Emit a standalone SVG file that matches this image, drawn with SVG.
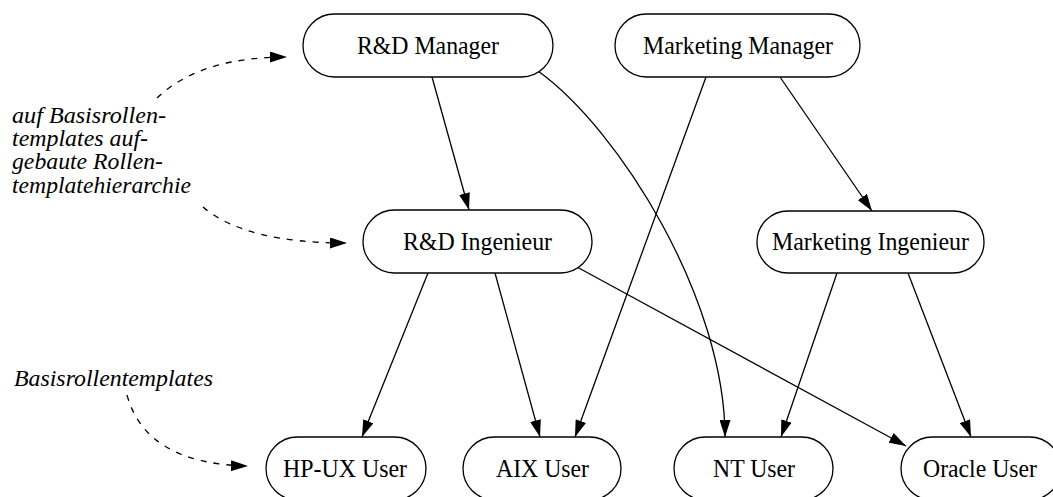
<svg xmlns="http://www.w3.org/2000/svg" width="1053" height="497" viewBox="0 0 1053 497">
<defs>
<style>
.node rect{fill:#fff;stroke:#000;stroke-width:1.3}
.node text{font-family:"Liberation Serif","Times New Roman",serif;font-size:26px;fill:#000;text-anchor:middle}
.lbl{font-family:"Liberation Serif","Times New Roman",serif;font-size:23px;font-style:italic;fill:#000}
.edge{fill:none;stroke:#000;stroke-width:1.3;marker-end:url(#ah)}
.dash{fill:none;stroke:#000;stroke-width:1.3;stroke-dasharray:6 7;marker-end:url(#ah)}
</style>
<marker id="ah" viewBox="0 0 17 11" refX="17" refY="5.5" markerWidth="17" markerHeight="11" markerUnits="userSpaceOnUse" orient="auto">
<path d="M0,0 L17,5.5 L0,11 Z" fill="#000"/>
</marker>
</defs>
<rect width="1053" height="497" fill="#fff"/>
<g id="connectors">
<path class="edge" d="M432,77 L469,210"/>
<path class="edge" d="M538,71 C620,130 725,300 725,437"/>
<path class="edge" d="M706,77 L575,437"/>
<path class="edge" d="M780,77 L872,211"/>
<path class="edge" d="M428,273 L362,437"/>
<path class="edge" d="M495,273 L540,437"/>
<path class="edge" d="M577,267 L906,446"/>
<path class="edge" d="M837,273 L781,437"/>
<path class="edge" d="M908,273 L971,437"/>
<path class="dash" d="M157,98 Q200,57 287,57"/>
<path class="dash" d="M203,207 Q245,243 347,243"/>
<path class="dash" d="M127,395 Q146,464 248,466"/>
</g>
<g id="labels">
<text class="lbl" x="12" y="123" textLength="154" lengthAdjust="spacingAndGlyphs">auf Basisrollen-</text>
<text class="lbl" x="12" y="146" textLength="136" lengthAdjust="spacingAndGlyphs">templates auf-</text>
<text class="lbl" x="12" y="169" textLength="151" lengthAdjust="spacingAndGlyphs">gebaute Rollen-</text>
<text class="lbl" x="12" y="193" textLength="179" lengthAdjust="spacingAndGlyphs">templatehierarchie</text>
<text class="lbl" x="14" y="386" textLength="199" lengthAdjust="spacingAndGlyphs">Basisrollentemplates</text>
</g>
<g id="rd-manager" class="node"><rect x="303" y="14" width="250" height="63" rx="31.5"/><text x="428" y="54" textLength="142" lengthAdjust="spacingAndGlyphs">R&amp;D Manager</text></g>
<g id="marketing-manager" class="node"><rect x="615" y="14" width="245" height="63" rx="31.5"/><text x="738" y="54" textLength="190" lengthAdjust="spacingAndGlyphs">Marketing Manager</text></g>
<g id="rd-ingenieur" class="node"><rect x="363" y="210" width="229" height="63" rx="31.5"/><text x="477.5" y="250" textLength="149" lengthAdjust="spacingAndGlyphs">R&amp;D Ingenieur</text></g>
<g id="marketing-ingenieur" class="node"><rect x="757" y="211" width="227" height="62" rx="31"/><text x="870.5" y="250" textLength="197" lengthAdjust="spacingAndGlyphs">Marketing Ingenieur</text></g>
<g id="hpux-user" class="node"><rect x="266" y="437" width="160" height="63" rx="31.5"/><text x="345" y="477" textLength="124" lengthAdjust="spacingAndGlyphs">HP-UX User</text></g>
<g id="aix-user" class="node"><rect x="463" y="437" width="158" height="63" rx="31.5"/><text x="542.5" y="477" textLength="93" lengthAdjust="spacingAndGlyphs">AIX User</text></g>
<g id="nt-user" class="node"><rect x="674" y="437" width="159" height="63" rx="31.5"/><text x="754" y="477" textLength="82" lengthAdjust="spacingAndGlyphs">NT User</text></g>
<g id="oracle-user" class="node"><rect x="901" y="437" width="160" height="63" rx="31.5"/><text x="980" y="477" textLength="114" lengthAdjust="spacingAndGlyphs">Oracle User</text></g>
</svg>
